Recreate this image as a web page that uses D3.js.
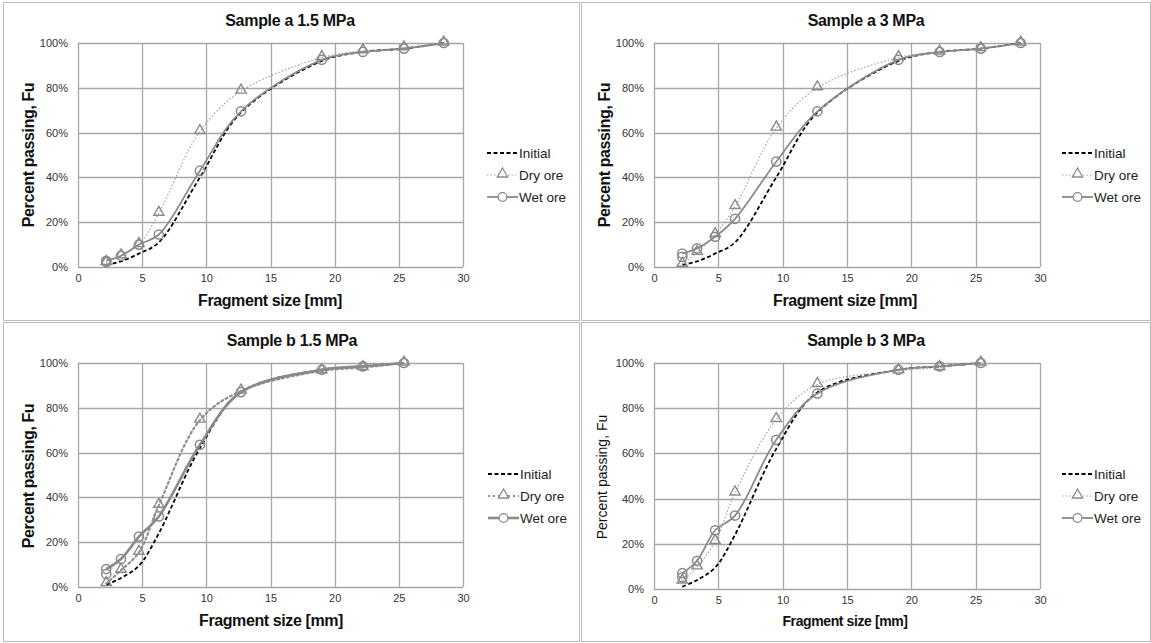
<!DOCTYPE html>
<html>
<head>
<meta charset="utf-8">
<script src="https://cdn.jsdelivr.net/npm/d3@7"></script>
<style>
  html, body { margin: 0; padding: 0; background: #fff; }
  svg { display: block; font-family: "Liberation Sans", Arial, sans-serif; }
</style>
</head>
<body>
<svg id="chart" width="1151" height="643"></svg>
<script>
// Sieve sizes (mm)
const sizesA = [2.2, 3.35, 4.75, 6.3, 9.5, 12.7, 19, 22.2, 25.4, 28.5];
const sizesB = [2.2, 3.35, 4.75, 6.3, 9.5, 12.7, 19, 22.2, 25.4];

// Cumulative percent passing
const initialA = [1, 2.5, 6, 11, 40, 69, 92, 96, 97.5, 100];
const dryA15   = [2, 5, 10, 24, 60.5, 78.5, 93.5, 96.5, 97.8, 100];
const wetA15   = [2.8, 5, 10, 14.5, 43, 69.5, 92.5, 96, 97.5, 100];
const dryA3    = [1.2, 6.5, 14.5, 27, 62, 80, 93.5, 96, 97.5, 100];
const wetA3    = [6, 8.3, 13.5, 21.5, 47, 69.5, 92.5, 96, 97.5, 100];

const initialB = [1, 4, 9.5, 24, 62, 87, 97, 98.5, 100];
const dryB15   = [1.5, 7.5, 15.5, 36.5, 74.5, 87.5, 96.5, 98, 100];
const wetB15   = [8, 12.5, 22.5, 31.5, 63.5, 87, 97, 98.5, 100];
const dryB3    = [3.5, 9.8, 21, 42.5, 75, 90.5, 96.5, 98, 100];
const wetB3    = [7, 12.5, 26, 32.5, 66, 86.5, 97, 98.5, 100];

// Repeat wet reading at the finest sieve
const wetRepeatA15 = 2.2;
const wetRepeatA3  = 4.5;
const wetRepeatB15 = 5.8;
const wetRepeatB3  = 5.2;

const titles = ["Sample a 1.5 MPa", "Sample a 3 MPa", "Sample b 1.5 MPa", "Sample b 3 MPa"];
const seriesNames = ["Initial", "Dry ore", "Wet ore"];
const xTicks = [0, 5, 10, 15, 20, 25, 30];
const yTicks = [0, 20, 40, 60, 80, 100];
const yTitleText = "Percent passing, Fu";
const xTitleTexts = ["Fragment size [mm]", "Fragment size [mm]", "Fragment size [mm]", "Fragment size  [mm]"];

const panels = [
  { sizes: sizesA, initial: initialA, dry: dryA15, wet: wetA15, repeat: wetRepeatA15,
    frame: [3, 2, 576, 318], plot: [78, 43, 463, 267], titleX: 290, titleY: 26,
    xTitleX: 270, xTitleY: 306, yTitleX: 28, yTitleY: 155, legX: 487, legY: 153,
    thick: false, yTitleBold: true, xTitleSize: 16, yTitleSize: 16 },
  { sizes: sizesA, initial: initialA, dry: dryA3, wet: wetA3, repeat: wetRepeatA3,
    frame: [581, 2, 569, 318], plot: [654, 43, 1040, 267], titleX: 866, titleY: 26,
    xTitleX: 845, xTitleY: 306, yTitleX: 604, yTitleY: 155, legX: 1062, legY: 153,
    thick: false, yTitleBold: true, xTitleSize: 16, yTitleSize: 16 },
  { sizes: sizesB, initial: initialB, dry: dryB15, wet: wetB15, repeat: wetRepeatB15,
    frame: [3, 322, 576, 319], plot: [78, 363, 463, 587], titleX: 292, titleY: 346,
    xTitleX: 271, xTitleY: 626, yTitleX: 28, yTitleY: 476, legX: 488, legY: 474,
    thick: true, yTitleBold: true, xTitleSize: 16, yTitleSize: 16 },
  { sizes: sizesB, initial: initialB, dry: dryB3, wet: wetB3, repeat: wetRepeatB3,
    frame: [581, 322, 569, 319], plot: [654, 363, 1040, 589], titleX: 866, titleY: 346,
    xTitleX: 845, xTitleY: 626, yTitleX: 602, yTitleY: 477, legX: 1062, legY: 474,
    thick: false, yTitleBold: false, xTitleSize: 14, yTitleSize: 14 }
];

const svg = d3.select("#chart");
const GRID = "#a6a6a6";
const SERIES_GRAY = "#8a8a8a";
const TEXT = "#222";

const triPath = d3.symbol().type(d3.symbolTriangle).size(46)();

panels.forEach((p, i) => {
  const g = svg.append("g");
  const [fx, fy, fw, fh] = p.frame;
  g.append("rect").attr("x", fx + 0.5).attr("y", fy + 0.5).attr("width", fw).attr("height", fh)
    .attr("fill", "#fff").attr("stroke", "#bdbdbd").attr("stroke-width", 1);

  const [x0, y0, x1, y1] = p.plot;
  const x = d3.scaleLinear().domain([0, 30]).range([x0, x1]);
  const y = d3.scaleLinear().domain([0, 100]).range([y1, y0]);

  // gridlines
  g.append("g").selectAll("line.v").data(xTicks).join("line")
    .attr("x1", d => Math.round(x(d)) + 0.5).attr("x2", d => Math.round(x(d)) + 0.5)
    .attr("y1", y(100)).attr("y2", y(0))
    .attr("stroke", GRID).attr("stroke-width", 1.3);
  g.append("g").selectAll("line.h").data(yTicks).join("line")
    .attr("x1", x(0)).attr("x2", x(30))
    .attr("y1", d => Math.round(y(d)) + 0.5).attr("y2", d => Math.round(y(d)) + 0.5)
    .attr("stroke", GRID).attr("stroke-width", 1.3);

  // axis labels via d3 axes
  const xAxis = d3.axisBottom(x).tickValues(xTicks).tickSize(0).tickPadding(7);
  const yAxis = d3.axisLeft(y).tickValues(yTicks).tickSize(0).tickPadding(10).tickFormat(d => d + "%");
  const xa = g.append("g").attr("transform", `translate(0,${y1})`).call(xAxis);
  const ya = g.append("g").attr("transform", `translate(${x0},0)`).call(yAxis);
  [xa, ya].forEach(a => {
    a.select(".domain").remove();
    a.selectAll("text").attr("font-size", 11).attr("fill", "#333")
      .attr("font-family", '"Liberation Sans", Arial, sans-serif');
  });

  // titles
  g.append("text").attr("x", p.titleX).attr("y", p.titleY).attr("text-anchor", "middle")
    .attr("font-size", 16).attr("font-weight", "bold").attr("fill", "#111")
    .attr("letter-spacing", "-0.3").text(titles[i]);
  g.append("text").attr("x", p.xTitleX).attr("y", p.xTitleY).attr("text-anchor", "middle")
    .attr("font-size", p.xTitleSize).attr("font-weight", "bold").attr("fill", "#111")
    .attr("letter-spacing", "-0.4").text(xTitleTexts[i]);
  g.append("text").attr("transform", `translate(${p.yTitleX},${p.yTitleY}) rotate(-90)`)
    .attr("text-anchor", "middle").attr("dominant-baseline", "central")
    .attr("font-size", p.yTitleSize).attr("font-weight", p.yTitleBold ? "bold" : "normal")
    .attr("fill", "#111").attr("letter-spacing", p.yTitleBold ? "-0.4" : "0").text(yTitleText);

  const line = d3.line().x(d => x(d[0])).y(d => y(d[1])).curve(d3.curveCatmullRom.alpha(0.5));
  const pts = vals => p.sizes.map((s, k) => [s, vals[k]]);

  const styles = {
    initial: { stroke: "#000", width: 1.8, dash: "4,2.5" },
    dry: { stroke: p.thick ? "#8f8f8f" : "#a3a3a3", width: p.thick ? 2.2 : 1.2, dash: p.thick ? "2,3" : "1.5,2" },
    wet: { stroke: SERIES_GRAY, width: p.thick ? 2.6 : 1.8, dash: null }
  };

  const plotG = g.append("g");
  plotG.append("path").datum(pts(p.initial)).attr("d", line).attr("fill", "none")
    .attr("stroke", styles.initial.stroke).attr("stroke-width", styles.initial.width)
    .attr("stroke-dasharray", styles.initial.dash);
  plotG.append("path").datum(pts(p.dry)).attr("d", line).attr("fill", "none")
    .attr("stroke", styles.dry.stroke).attr("stroke-width", styles.dry.width)
    .attr("stroke-dasharray", styles.dry.dash).attr("stroke-linecap", p.thick ? "round" : "butt");
  plotG.append("path").datum(pts(p.wet)).attr("d", line).attr("fill", "none")
    .attr("stroke", styles.wet.stroke).attr("stroke-width", styles.wet.width);

  // markers
  plotG.append("g").selectAll("path").data(pts(p.dry)).join("path")
    .attr("d", triPath).attr("transform", d => `translate(${x(d[0])},${y(d[1]) - 1})`)
    .attr("fill", "none").attr("stroke", "#8a8a8a").attr("stroke-width", 1.4);
  const wetPts = pts(p.wet).concat([[p.sizes[0], p.repeat]]);
  plotG.append("g").selectAll("circle").data(wetPts).join("circle")
    .attr("cx", d => x(d[0])).attr("cy", d => y(d[1])).attr("r", 4.6)
    .attr("fill", "none").attr("stroke", "#8a8a8a").attr("stroke-width", 1.5);

  // legend
  const leg = g.append("g").attr("transform", `translate(${p.legX},${p.legY})`);
  const keys = ["initial", "dry", "wet"];
  keys.forEach((k, j) => {
    const ly = j * 22;
    const st = styles[k];
    leg.append("line").attr("x1", 0).attr("x2", 31).attr("y1", ly).attr("y2", ly)
      .attr("stroke", st.stroke).attr("stroke-width", st.width)
      .attr("stroke-dasharray", st.dash);
    if (k === "dry") {
      leg.append("path").attr("d", triPath).attr("transform", `translate(15.5,${ly - 1})`)
        .attr("fill", "#fff").attr("stroke", "#8a8a8a").attr("stroke-width", 1.3);
    }
    if (k === "wet") {
      leg.append("circle").attr("cx", 15.5).attr("cy", ly).attr("r", 4.4)
        .attr("fill", "#fff").attr("stroke", "#8a8a8a").attr("stroke-width", 1.3);
    }
    leg.append("text").attr("x", 32).attr("y", ly).attr("dominant-baseline", "central")
      .attr("font-size", 13.5).attr("fill", TEXT).text(seriesNames[j]);
  });
});
</script>
</body>
</html>
